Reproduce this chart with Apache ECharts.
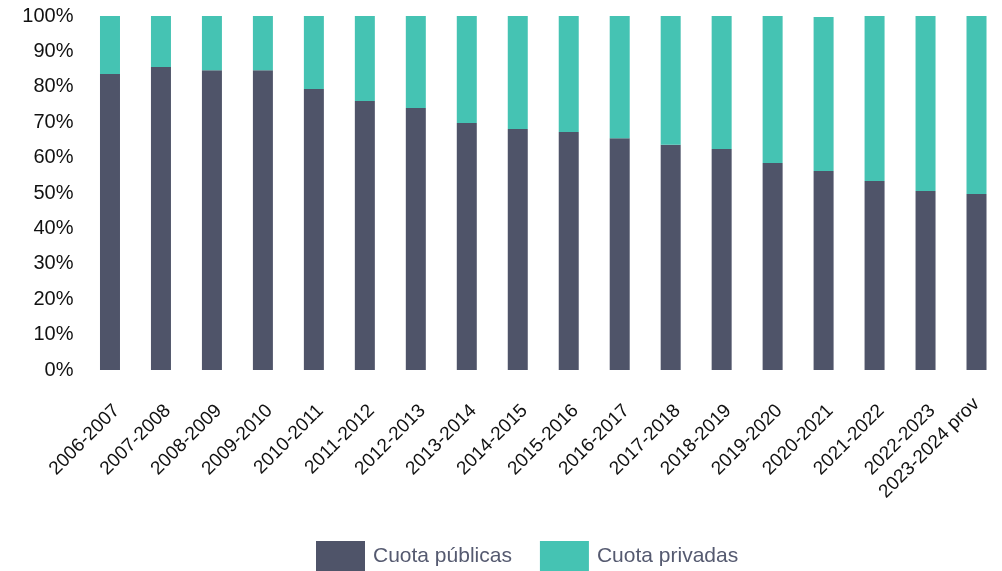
<!DOCTYPE html>
<html>
<head>
<meta charset="utf-8">
<script src="https://cdn.jsdelivr.net/npm/echarts@6/dist/echarts.min.js"></script>
<style>html,body{margin:0;padding:0;background:#fff}#c{width:1002px;height:571px}</style>
</head>
<body>
<div id="c"></div>
<script>
var categories = ["2006-2007","2007-2008","2008-2009","2009-2010","2010-2011","2011-2012","2012-2013","2013-2014","2014-2015","2015-2016","2016-2017","2017-2018","2018-2019","2019-2020","2020-2021","2021-2022","2022-2023","2023-2024 prov"];
var publicas = [83.6,85.6,84.7,84.7,79.4,76.0,74.0,69.8,68.1,67.2,65.5,63.6,62.4,58.5,56.2,53.4,50.6,49.7];
var privadas = [16.4,14.4,15.3,15.3,20.6,24.0,26.0,30.2,31.9,32.8,34.5,36.4,37.6,41.5,43.5,46.6,49.4,50.3];
var yTicks = [0,10,20,30,40,50,60,70,80,90,100];

var xData = categories.map(function (c, i) {
  return i === categories.length - 1 ? {value: c, textStyle: {verticalAlign: 'middle'}} : c;
});

var chart = echarts.init(document.getElementById('c'));
var font = '"Liberation Sans", Arial, Helvetica, sans-serif';
chart.setOption({
  animation: false,
  textStyle: {fontFamily: font},
  grid: {left: 84.5, width: 920, top: 16, height: 354, containLabel: false},
  legend: {
    left: 316, top: 541, padding: 0,
    itemWidth: 49, itemHeight: 30, itemGap: 28,
    icon: 'rect',
    textStyle: {fontSize: 21, color: '#555a70', fontFamily: font, padding: [0,0,0,3]},
    data: ['Cuota públicas', 'Cuota privadas']
  },
  xAxis: {
    type: 'category', data: xData,
    axisLine: {show: false}, axisTick: {show: false},
    axisLabel: {rotate: 45, fontSize: 19, color: '#111', margin: 31, interval: 0, verticalAlign: 'top', fontFamily: font}
  },
  yAxis: {
    type: 'value', min: 0, max: 100, interval: 10,
    splitLine: {show: false}, axisLine: {show: false}, axisTick: {show: false},
    axisLabel: {
      fontSize: 20, color: '#111', margin: 11, fontFamily: font,
      formatter: function (v) { return yTicks.indexOf(v) >= 0 ? v + '%' : ''; }
    }
  },
  series: [
    {name: 'Cuota públicas', type: 'bar', stack: 't', data: publicas, barWidth: 20, itemStyle: {color: '#4f5469'}},
    {name: 'Cuota privadas', type: 'bar', stack: 't', data: privadas, barWidth: 20, itemStyle: {color: '#45c3b3'}}
  ]
});
</script>
</body>
</html>
